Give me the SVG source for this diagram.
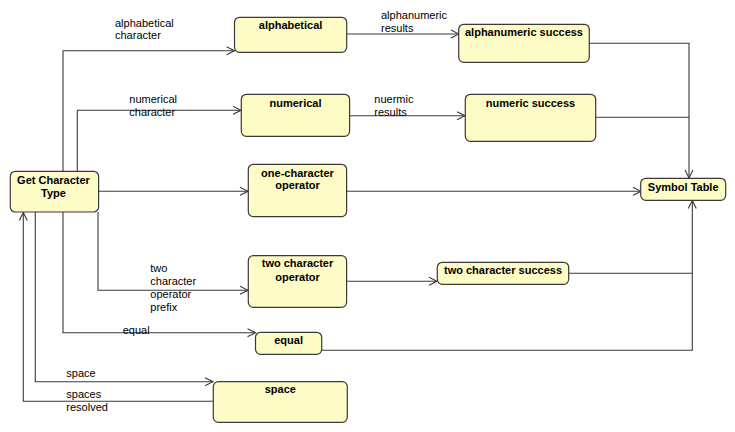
<svg xmlns="http://www.w3.org/2000/svg" width="735" height="432" viewBox="0 0 735 432">
<style>
.node rect{fill:#fdfbc6;stroke:#3a3a3a;stroke-width:1.2}
.node text{font-family:"Liberation Sans",Arial,sans-serif;font-size:11px;font-weight:bold;fill:#000;text-anchor:middle}
.conn path{fill:none;stroke:#3a3a3a;stroke-width:1.1}
.lbl{font-family:"Liberation Sans",Arial,sans-serif;font-size:11px;fill:#000}
</style>
<defs>
<marker id="arr" viewBox="0 0 10 10" refX="9" refY="5" markerWidth="10" markerHeight="10" markerUnits="userSpaceOnUse" orient="auto">
<path d="M1,1 L9,5 L1,9" fill="none" stroke="#3a3a3a" stroke-width="1.1"/>
</marker>
</defs>
<rect width="735" height="432" fill="#fff"/>
<g class="conn">
<path d="M63,171 V50.7 H234.5" marker-end="url(#arr)"/>
<path d="M77.3,171 V110.3 H241" marker-end="url(#arr)"/>
<path d="M98,191.3 H248" marker-end="url(#arr)"/>
<path d="M98,212 V290.3 H248" marker-end="url(#arr)"/>
<path d="M63,212 V332.7 H255.5" marker-end="url(#arr)"/>
<path d="M35.3,212 V381.7 H213" marker-end="url(#arr)"/>
<path d="M213,401.3 H23.3 V212.5" marker-end="url(#arr)"/>
<path d="M347,34 H459" marker-end="url(#arr)"/>
<path d="M349.5,115.7 H465" marker-end="url(#arr)"/>
<path d="M346.5,191.3 H641" marker-end="url(#arr)"/>
<path d="M346.5,281.3 H437" marker-end="url(#arr)"/>
<path d="M589,43.3 H689 V178" marker-end="url(#arr)"/>
<path d="M595.5,117.3 H689"/>
<path d="M568.5,273.3 H692.3"/>
<path d="M321.5,350.3 H692.3 V200.5" marker-end="url(#arr)"/>
</g>
<g class="labels">
<text class="lbl" x="115" y="26.7">alphabetical</text>
<text class="lbl" x="115" y="39.3">character</text>
<text class="lbl" x="129.3" y="103.3">numerical</text>
<text class="lbl" x="129.3" y="116">character</text>
<text class="lbl" x="381" y="19.3">alphanumeric</text>
<text class="lbl" x="381" y="32.3">results</text>
<text class="lbl" x="374.3" y="103.3">nuermic</text>
<text class="lbl" x="374.3" y="116">results</text>
<text class="lbl" x="150.3" y="271.7">two</text>
<text class="lbl" x="150.3" y="284.7">character</text>
<text class="lbl" x="150.3" y="297.7">operator</text>
<text class="lbl" x="150.3" y="310.7">prefix</text>
<text class="lbl" x="122.7" y="334.3">equal</text>
<text class="lbl" x="66.3" y="376.7">space</text>
<text class="lbl" x="66.3" y="397.7">spaces</text>
<text class="lbl" x="66.3" y="410.7">resolved</text>
</g>
<g class="node" id="get-character-type">
<rect x="10.3" y="171.3" width="88.3" height="40.7" rx="5"/>
<text x="53.5" y="183.7">Get Character</text>
<text x="53.5" y="196.7">Type</text>
</g>
<g class="node" id="alphabetical">
<rect x="234.5" y="17.3" width="112.2" height="35" rx="5"/>
<text x="290.6" y="29.3">alphabetical</text>
</g>
<g class="node" id="numerical">
<rect x="241.3" y="94.3" width="108.3" height="42" rx="5"/>
<text x="295.5" y="106.7">numerical</text>
</g>
<g class="node" id="one-character-operator">
<rect x="248.3" y="164.3" width="98.3" height="52.3" rx="5"/>
<text x="297.5" y="176.7">one-character</text>
<text x="297.5" y="189.3">operator</text>
</g>
<g class="node" id="two-character-operator">
<rect x="248.3" y="255.7" width="98.3" height="51.6" rx="5"/>
<text x="297.5" y="267.3">two character</text>
<text x="297.5" y="280.7">operator</text>
</g>
<g class="node" id="equal">
<rect x="255.5" y="332.3" width="66.2" height="22" rx="5"/>
<text x="288.6" y="344.3">equal</text>
</g>
<g class="node" id="space">
<rect x="213.3" y="381.7" width="134" height="40.6" rx="5"/>
<text x="280.3" y="393.3">space</text>
</g>
<g class="node" id="alphanumeric-success">
<rect x="458.7" y="24.3" width="130.6" height="38" rx="5"/>
<text x="524" y="36">alphanumeric success</text>
</g>
<g class="node" id="numeric-success">
<rect x="465.3" y="94.3" width="130.4" height="47" rx="5"/>
<text x="530.5" y="106.7">numeric success</text>
</g>
<g class="node" id="two-character-success">
<rect x="437.3" y="262.3" width="131.4" height="22" rx="5"/>
<text x="503" y="274.3">two character success</text>
</g>
<g class="node" id="symbol-table">
<rect x="640.7" y="178.3" width="85" height="22" rx="5"/>
<text x="683.2" y="190.7">Symbol Table</text>
</g>
</svg>
